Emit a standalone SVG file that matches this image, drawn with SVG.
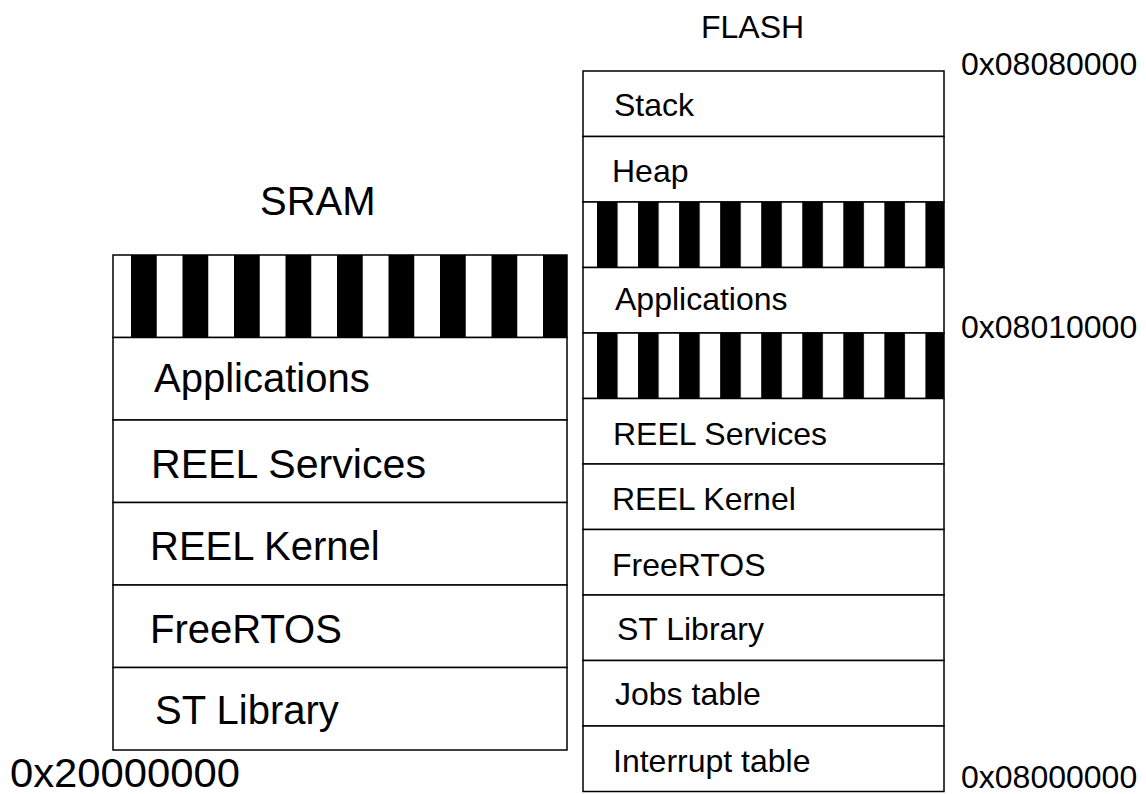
<svg xmlns="http://www.w3.org/2000/svg" width="1146" height="794" viewBox="0 0 1146 794">
<defs>
<pattern id="stripeS" patternUnits="userSpaceOnUse" x="131" y="0" width="51.5" height="10"><rect x="0" y="0" width="25.75" height="10" fill="#000"/></pattern>
<pattern id="stripeF" patternUnits="userSpaceOnUse" x="597" y="0" width="41.05" height="10"><rect x="0" y="0" width="20.6" height="10" fill="#000"/></pattern>
</defs>
<style>
.cell{fill:#fff;stroke:#000;stroke-width:1.5}
.st{stroke:#000;stroke-width:1.5}
.l{font-family:"Liberation Sans",Arial,sans-serif;fill:#000}
.s{font-size:40px}
.f{font-size:32px}
</style>
<rect width="1146" height="794" fill="#fff"/>
<g id="titles">
<text class="l s" x="260" y="215">SRAM</text>
<text class="l f" x="701" y="38">FLASH</text>
</g>
<g id="sram">
<g id="sram-gap"><rect x="113" y="255" width="454" height="82.5" fill="#fff"/><rect x="113" y="255" width="454" height="82.5" fill="url(#stripeS)" class="st"/></g>
<g id="sram-apps"><rect class="cell" x="113" y="337.5" width="454" height="82.5"/><text class="l s" x="154" y="392">Applications</text></g>
<g id="sram-services"><rect class="cell" x="113" y="420" width="454" height="82.5"/><text class="l s" x="151" y="478" textLength="275" lengthAdjust="spacingAndGlyphs">REEL Services</text></g>
<g id="sram-kernel"><rect class="cell" x="113" y="502.5" width="454" height="82.5"/><text class="l s" x="150" y="560">REEL Kernel</text></g>
<g id="sram-freertos"><rect class="cell" x="113" y="585" width="454" height="82.5"/><text class="l s" x="150" y="643">FreeRTOS</text></g>
<g id="sram-stlib"><rect class="cell" x="113" y="667.5" width="454" height="82.5"/><text class="l s" x="155" y="724">ST Library</text></g>
</g>
<g id="flash">
<g id="flash-stack"><rect class="cell" x="583" y="71" width="361" height="65.5"/><text class="l f" x="614" y="116">Stack</text></g>
<g id="flash-heap"><rect class="cell" x="583" y="136.5" width="361" height="65.5"/><text class="l f" x="612" y="182">Heap</text></g>
<g id="flash-gap1"><rect x="583" y="202" width="361" height="65.5" fill="#fff"/><rect x="583" y="202" width="361" height="65.5" fill="url(#stripeF)" class="st"/></g>
<g id="flash-apps"><rect class="cell" x="583" y="267.5" width="361" height="65.5"/><text class="l f" x="615" y="310">Applications</text></g>
<g id="flash-gap2"><rect x="583" y="333" width="361" height="65.5" fill="#fff"/><rect x="583" y="333" width="361" height="65.5" fill="url(#stripeF)" class="st"/></g>
<g id="flash-services"><rect class="cell" x="583" y="398.5" width="361" height="65.5"/><text class="l f" x="613" y="445">REEL Services</text></g>
<g id="flash-kernel"><rect class="cell" x="583" y="464" width="361" height="65.5"/><text class="l f" x="612" y="510">REEL Kernel</text></g>
<g id="flash-freertos"><rect class="cell" x="583" y="529.5" width="361" height="65.5"/><text class="l f" x="612" y="576">FreeRTOS</text></g>
<g id="flash-stlib"><rect class="cell" x="583" y="595" width="361" height="65.5"/><text class="l f" x="617" y="640">ST Library</text></g>
<g id="flash-jobs"><rect class="cell" x="583" y="660.5" width="361" height="65.5"/><text class="l f" x="615" y="705">Jobs table</text></g>
<g id="flash-irq"><rect class="cell" x="583" y="726" width="361" height="65.5"/><text class="l f" x="613" y="772">Interrupt table</text></g>
</g>
<g id="addresses">
<text class="l f" x="961" y="75">0x08080000</text>
<text class="l f" x="961" y="338">0x08010000</text>
<text class="l f" x="961" y="788">0x08000000</text>
<text class="l s" x="10" y="787" textLength="230" lengthAdjust="spacingAndGlyphs">0x20000000</text>
</g>
<g id="connectors"></g>
</svg>
